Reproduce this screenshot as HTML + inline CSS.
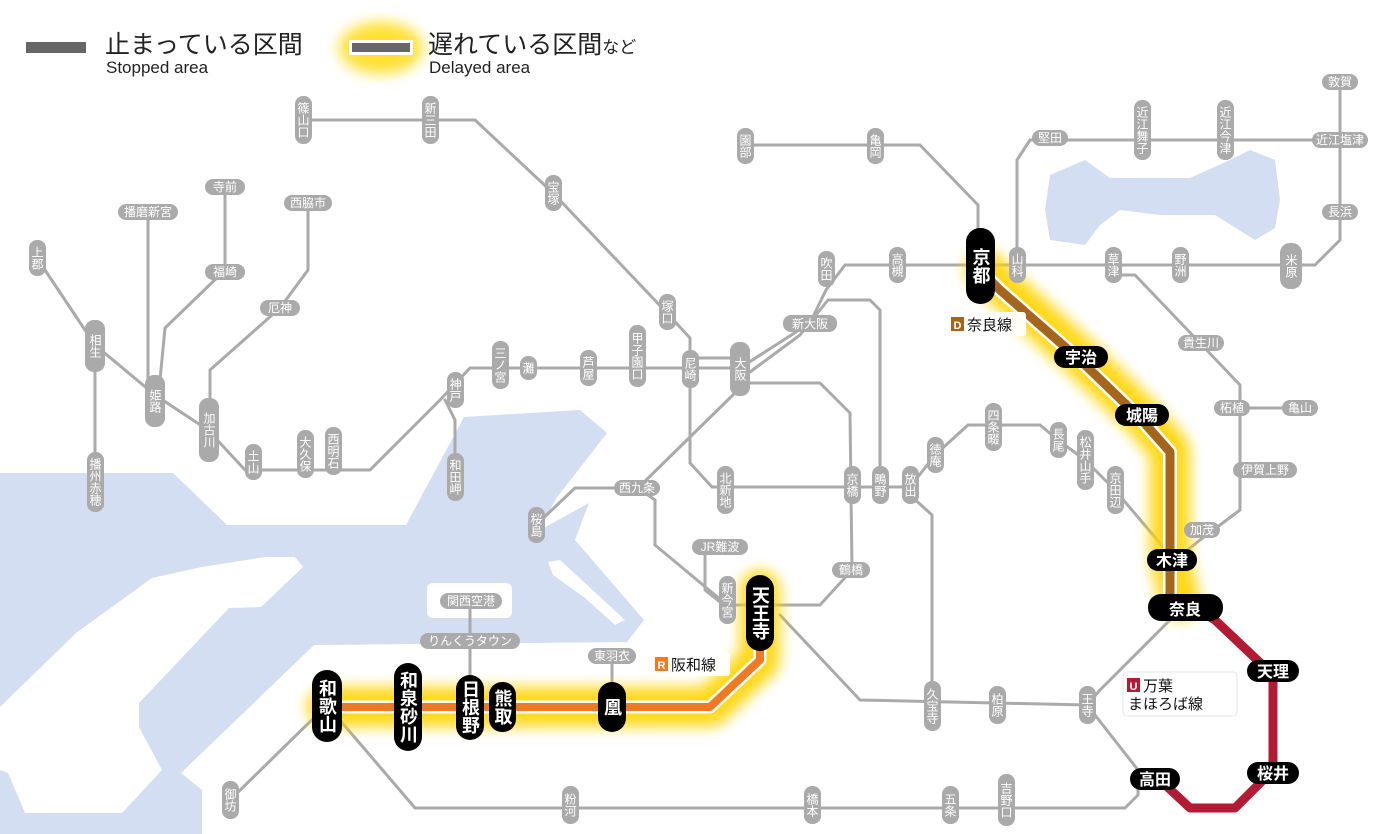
<!DOCTYPE html>
<html><head><meta charset="utf-8"><style>
html,body{margin:0;padding:0;background:#fff;}
svg{display:block;font-family:"Liberation Sans","Noto Sans CJK JP",sans-serif;}
.l{fill:none;stroke:#aaa;stroke-width:3;stroke-linejoin:round;stroke-linecap:round}
.p{fill:#aaa}
.t{fill:#fff;font-size:12px;text-anchor:middle}
.v{fill:#fff;font-size:12px;text-anchor:middle;writing-mode:vertical-rl;dominant-baseline:central}
.b{fill:#000}
.bt{fill:#fff;font-size:16px;text-anchor:middle;font-weight:bold}
.bv{fill:#fff;font-size:18px;text-anchor:middle;writing-mode:vertical-rl;dominant-baseline:central;font-weight:bold}
</style></head><body>
<svg width="1400" height="834" viewBox="0 0 1400 834" xmlns="http://www.w3.org/2000/svg">
<defs>
<filter id="g" x="-20%" y="-20%" width="140%" height="140%"><feGaussianBlur stdDeviation="7"/></filter>
</defs>
<!-- water -->
<path fill="#d3def2" d="M0,473 L173,473 L227,525 L406,525 L464,417 L580,410 L607,433 L555,500 L540,530 L589,503 L575,540 L644,620 L627,642 L314,645 L181,773 L202,790 L202,834 L0,834 Z"/>
<path fill="#fff" d="M265,557 L295,557 L303,567 L261,607 L229,608 L139,703 L139,727 L162,770 L122,813 L25,813 L8,773 L0,770 L0,707 L76,633 L152,578 L202,567 Z"/>
<rect x="427" y="583" width="85" height="35" rx="6" fill="#fff"/>
<path fill="#fff" d="M548,562 L560,560 L625,620 L615,625 L585,598 L553,575 Z"/>
<path fill="#d3def2" d="M1050,175 L1085,160 L1110,178 L1190,178 L1230,160 L1250,150 L1275,160 L1280,200 L1275,228 L1255,240 L1215,215 L1160,215 L1120,210 L1100,225 L1085,245 L1050,240 L1045,210 Z"/>
<!-- legend -->
<rect x="26" y="42" width="60" height="11" fill="#666"/>
<text x="105" y="53" font-size="25" fill="#222">止まっている区間</text>
<text x="106" y="73" font-size="17" fill="#222">Stopped area</text>
<ellipse cx="381" cy="48" rx="42" ry="26" fill="#ffd800" opacity=".8" filter="url(#g)"/>
<rect x="349" y="40" width="64" height="15" fill="#fff"/>
<rect x="352" y="43" width="58" height="9" fill="#666"/>
<text x="428" y="53" font-size="25" fill="#222">遅れている区間<tspan font-size="17">など</tspan></text>
<text x="429" y="73" font-size="17" fill="#222">Delayed area</text>
<!-- gray lines -->
<polyline class="l" points="303,120 475,120 553,193 667,313 690,338 690,463 712,487 910,487"/>
<polyline class="l" points="910,487 935,455 968,425 1040,425 1058,440 1085,460 1115,490 1170,555"/>
<polyline class="l" points="37,258 95,345 155,395 208,430 245,470 370,470 440,400 470,368 740,368"/>
<polyline class="l" points="690,358 740,358"/>
<polyline class="l" points="445,400 455,420 455,478"/>
<polyline class="l" points="95,345 95,482"/>
<polyline class="l" points="148,212 148,395"/>
<polyline class="l" points="225,187 225,270 165,328 160,380"/>
<polyline class="l" points="308,203 308,270 280,308 210,370 210,420"/>
<polyline class="l" points="740,368 810,323 826,290 845,265 1315,265 1340,240 1340,82"/>
<polyline class="l" points="750,372 800,335 828,300 870,300 880,310 880,487"/>
<polyline class="l" points="1340,140 1030,140 1017,160 1017,265"/>
<polyline class="l" points="745,145 920,145 978,205 978,240"/>
<polyline class="l" points="740,383 820,383 850,413 852,570 820,605 727,605 655,545 655,500 638,488 738,390"/>
<polyline class="l" points="638,488 575,488 536,525"/>
<polyline class="l" points="705,547 705,590 720,602"/>
<polyline class="l" points="612,656 612,705"/>
<polyline class="l" points="470,601 470,705"/>
<polyline class="l" points="327,705 230,800"/>
<polyline class="l" points="327,705 415,808 1125,808 1138,795 1138,770 1095,715"/>
<polyline class="l" points="780,615 860,700 1087,705 1100,690 1180,610"/>
<polyline class="l" points="910,495 932,515 932,705"/>
<polyline class="l" points="1113,275 1135,275 1200,343 1240,385 1240,510 1200,540 1175,560"/>
<polyline class="l" points="1240,408 1300,408"/>
<!-- delayed lines glow -->
<g filter="url(#g)" fill="none" stroke="#ffd400" stroke-linejoin="round" stroke-linecap="round" opacity=".9">
<polyline stroke-width="40" points="985,270 1000,285 1080,357 1140,415 1170,450 1170,560 1180,600"/>
<polyline stroke-width="40" points="327,707 710,707 760,660 760,590"/>
</g>
<g fill="none" stroke-linejoin="round">
<polyline stroke="#fff" stroke-width="14" points="985,275 1000,290 1080,360 1140,418 1170,452 1170,600"/>
<polyline stroke="#a4651d" stroke-width="9" points="985,275 1000,290 1080,360 1140,418 1170,452 1170,600"/>
<polyline stroke="#fff" stroke-width="13" points="327,707 710,707 760,660 760,600"/>
<polyline stroke="#f07a22" stroke-width="8" points="327,707 710,707 760,660 760,600"/>
<polyline stroke="#b31b34" stroke-width="9" points="1195,608 1215,620 1273,675 1273,770 1235,808 1190,808 1160,780"/>
</g>
<!-- horizontal gray stations -->
<g>
<rect class="p" x="118" y="204" width="60" height="16" rx="8"/><text class="t" x="148" y="216">播磨新宮</text>
<rect class="p" x="205" y="179" width="40" height="16" rx="8"/><text class="t" x="225" y="191">寺前</text>
<rect class="p" x="205" y="264" width="40" height="16" rx="8"/><text class="t" x="225" y="276">福崎</text>
<rect class="p" x="284" y="195" width="48" height="16" rx="8"/><text class="t" x="308" y="207">西脇市</text>
<rect class="p" x="260" y="300" width="40" height="16" rx="8"/><text class="t" x="280" y="312">厄神</text>
<rect class="p" x="783" y="315" width="54" height="17" rx="8"/><text class="t" x="810" y="328" font-size="13">新大阪</text>
<rect class="p" x="1032" y="130" width="36" height="16" rx="8"/><text class="t" x="1050" y="142">堅田</text>
<rect class="p" x="1312" y="132" width="56" height="16" rx="8"/><text class="t" x="1340" y="144">近江塩津</text>
<rect class="p" x="1322" y="74" width="36" height="16" rx="8"/><text class="t" x="1340" y="86">敦賀</text>
<rect class="p" x="1322" y="204" width="36" height="16" rx="8"/><text class="t" x="1340" y="216">長浜</text>
<rect class="p" x="1178" y="335" width="46" height="16" rx="8"/><text class="t" x="1201" y="347">貴生川</text>
<rect class="p" x="1214" y="400" width="36" height="16" rx="8"/><text class="t" x="1232" y="412">柘植</text>
<rect class="p" x="1282" y="400" width="36" height="16" rx="8"/><text class="t" x="1300" y="412">亀山</text>
<rect class="p" x="1233" y="462" width="64" height="16" rx="8"/><text class="t" x="1265" y="474">伊賀上野</text>
<rect class="p" x="1184" y="522" width="36" height="16" rx="8"/><text class="t" x="1202" y="534">加茂</text>
<rect class="p" x="614" y="480" width="46" height="16" rx="8"/><text class="t" x="637" y="492">西九条</text>
<rect class="p" x="692" y="539" width="56" height="16" rx="8"/><text class="t" x="720" y="551">JR難波</text>
<rect class="p" x="832" y="562" width="38" height="16" rx="8"/><text class="t" x="851" y="574">鶴橋</text>
<rect class="p" x="440" y="593" width="62" height="16" rx="8"/><text class="t" x="471" y="605">関西空港</text>
<rect class="p" x="420" y="633" width="100" height="16" rx="8"/><text class="t" x="470" y="645">りんくうタウン</text>
<rect class="p" x="588" y="648" width="48" height="16" rx="8"/><text class="t" x="612" y="660">東羽衣</text>
</g>
<!-- vertical gray stations -->
<g>
<rect class="p" x="295" y="96" width="17" height="48" rx="8"/><text class="v" x="303" y="120">篠山口</text>
<rect class="p" x="422" y="96" width="17" height="48" rx="8"/><text class="v" x="430" y="120">新三田</text>
<rect class="p" x="545" y="175" width="17" height="36" rx="8"/><text class="v" x="553" y="193">宝塚</text>
<rect class="p" x="659" y="294" width="17" height="36" rx="8"/><text class="v" x="667" y="312">塚口</text>
<rect class="p" x="737" y="128" width="17" height="36" rx="8"/><text class="v" x="745" y="146">園部</text>
<rect class="p" x="867" y="128" width="17" height="36" rx="8"/><text class="v" x="875" y="146">亀岡</text>
<rect class="p" x="818" y="251" width="17" height="36" rx="8"/><text class="v" x="826" y="269">吹田</text>
<rect class="p" x="889" y="247" width="17" height="36" rx="8"/><text class="v" x="897" y="265">高槻</text>
<rect class="p" x="1009" y="247" width="17" height="36" rx="8"/><text class="v" x="1017" y="265">山科</text>
<rect class="p" x="1105" y="247" width="17" height="36" rx="8"/><text class="v" x="1113" y="265">草津</text>
<rect class="p" x="1172" y="247" width="17" height="36" rx="8"/><text class="v" x="1180" y="265">野洲</text>
<rect class="p" x="1280" y="243" width="22" height="46" rx="10"/><text class="v" x="1291" y="266" font-size="16">米原</text>
<rect class="p" x="1134" y="100" width="17" height="60" rx="8"/><text class="v" x="1142" y="130">近江舞子</text>
<rect class="p" x="1217" y="100" width="17" height="60" rx="8"/><text class="v" x="1225" y="130">近江今津</text>
<rect class="p" x="29" y="240" width="17" height="36" rx="8"/><text class="v" x="37" y="258">上郡</text>
<rect class="p" x="85" y="320" width="20" height="52" rx="9"/><text class="v" x="95" y="346" font-size="15">相生</text>
<rect class="p" x="145" y="375" width="20" height="52" rx="9"/><text class="v" x="155" y="401" font-size="15">姫路</text>
<rect class="p" x="199" y="398" width="20" height="64" rx="9"/><text class="v" x="209" y="430" font-size="15">加古川</text>
<rect class="p" x="87" y="452" width="17" height="60" rx="8"/><text class="v" x="95" y="482">播州赤穂</text>
<rect class="p" x="245" y="444" width="17" height="36" rx="8"/><text class="v" x="253" y="462">土山</text>
<rect class="p" x="297" y="430" width="17" height="48" rx="8"/><text class="v" x="305" y="454">大久保</text>
<rect class="p" x="325" y="427" width="17" height="48" rx="8"/><text class="v" x="333" y="451">西明石</text>
<rect class="p" x="447" y="372" width="17" height="36" rx="8"/><text class="v" x="455" y="390">神戸</text>
<rect class="p" x="447" y="453" width="17" height="48" rx="8"/><text class="v" x="455" y="477">和田岬</text>
<rect class="p" x="492" y="341" width="17" height="48" rx="8"/><text class="v" x="500" y="365">三ノ宮</text>
<rect class="p" x="520" y="356" width="17" height="24" rx="8"/><text class="v" x="528" y="368">灘</text>
<rect class="p" x="580" y="350" width="17" height="36" rx="8"/><text class="v" x="588" y="368">芦屋</text>
<rect class="p" x="629" y="325" width="17" height="62" rx="8"/><text class="v" x="637" y="356">甲子園口</text>
<rect class="p" x="682" y="350" width="17" height="38" rx="8"/><text class="v" x="690" y="369">尼崎</text>
<rect class="p" x="730" y="342" width="20" height="54" rx="9"/><text class="v" x="740" y="369" font-size="16">大阪</text>
<rect class="p" x="717" y="466" width="17" height="48" rx="8"/><text class="v" x="725" y="490">北新地</text>
<rect class="p" x="844" y="466" width="17" height="38" rx="8"/><text class="v" x="852" y="485">京橋</text>
<rect class="p" x="872" y="466" width="17" height="38" rx="8"/><text class="v" x="880" y="485">鴫野</text>
<rect class="p" x="902" y="466" width="17" height="38" rx="8"/><text class="v" x="910" y="485">放出</text>
<rect class="p" x="927" y="437" width="17" height="36" rx="8"/><text class="v" x="935" y="455">徳庵</text>
<rect class="p" x="985" y="403" width="17" height="48" rx="8"/><text class="v" x="993" y="427">四条畷</text>
<rect class="p" x="1050" y="422" width="17" height="36" rx="8"/><text class="v" x="1058" y="440">長尾</text>
<rect class="p" x="1077" y="430" width="17" height="60" rx="8"/><text class="v" x="1085" y="460">松井山手</text>
<rect class="p" x="1107" y="466" width="17" height="48" rx="8"/><text class="v" x="1115" y="490">京田辺</text>
<rect class="p" x="528" y="507" width="17" height="36" rx="8"/><text class="v" x="536" y="525">桜島</text>
<rect class="p" x="719" y="576" width="17" height="48" rx="8"/><text class="v" x="727" y="600">新今宮</text>
<rect class="p" x="924" y="681" width="17" height="50" rx="8"/><text class="v" x="932" y="706">久宝寺</text>
<rect class="p" x="989" y="686" width="17" height="38" rx="8"/><text class="v" x="997" y="705">柏原</text>
<rect class="p" x="1079" y="686" width="17" height="38" rx="8"/><text class="v" x="1087" y="705">王寺</text>
<rect class="p" x="222" y="781" width="17" height="38" rx="8"/><text class="v" x="230" y="800">御坊</text>
<rect class="p" x="562" y="786" width="17" height="38" rx="8"/><text class="v" x="570" y="805">粉河</text>
<rect class="p" x="804" y="786" width="17" height="38" rx="8"/><text class="v" x="812" y="805">橋本</text>
<rect class="p" x="942" y="786" width="17" height="38" rx="8"/><text class="v" x="950" y="805">五条</text>
<rect class="p" x="998" y="774" width="17" height="52" rx="8"/><text class="v" x="1006" y="800">吉野口</text>
</g>
<!-- black stations -->
<g>
<rect class="b" x="966" y="228" width="29" height="76" rx="14"/><text class="bv" x="980.5" y="266" font-size="22">京都</text>
<rect class="b" x="1054" y="346" width="54" height="22" rx="11"/><text class="bt" x="1081" y="363">宇治</text>
<rect class="b" x="1115" y="404" width="54" height="22" rx="11"/><text class="bt" x="1142" y="421">城陽</text>
<rect class="b" x="1147" y="549" width="50" height="22" rx="11"/><text class="bt" x="1172" y="566">木津</text>
<rect class="b" x="1148" y="594" width="75" height="27" rx="13"/><text class="bt" x="1185" y="615" font-size="20">奈良</text>
<rect class="b" x="1247" y="660" width="52" height="22" rx="11"/><text class="bt" x="1273" y="677">天理</text>
<rect class="b" x="1247" y="762" width="52" height="22" rx="11"/><text class="bt" x="1273" y="779">桜井</text>
<rect class="b" x="1130" y="768" width="50" height="22" rx="11"/><text class="bt" x="1155" y="785">高田</text>
<rect class="b" x="746" y="575" width="28" height="76" rx="14"/><text class="bv" x="760" y="613" font-size="20">天王寺</text>
<rect class="b" x="598" y="682" width="28" height="50" rx="14"/><text class="bv" x="612" y="707">凰</text>
<rect class="b" x="489" y="682" width="27" height="50" rx="13"/><text class="bv" x="502.5" y="707">熊取</text>
<rect class="b" x="456" y="675" width="28" height="65" rx="14"/><text class="bv" x="470" y="707">日根野</text>
<rect class="b" x="394" y="663" width="28" height="88" rx="14"/><text class="bv" x="408" y="707">和泉砂川</text>
<rect class="b" x="312" y="670" width="30" height="72" rx="15"/><text class="bv" x="327" y="706" font-size="20">和歌山</text>
</g>
<!-- line labels -->
<rect x="946" y="312" width="80" height="24" rx="3" fill="#fff" opacity=".95"/>
<rect x="951" y="317" width="13" height="14" fill="#a4651d"/><text x="957.5" y="329" font-size="11" font-weight="bold" fill="#fff" text-anchor="middle">D</text>
<text x="967" y="330" font-size="15" fill="#111">奈良線</text>
<rect x="650" y="652" width="80" height="24" rx="3" fill="#fff" opacity=".95"/>
<rect x="655" y="657" width="13" height="14" fill="#f07a22"/><text x="661.5" y="669" font-size="11" font-weight="bold" fill="#fff" text-anchor="middle">R</text>
<text x="671" y="670" font-size="15" fill="#111">阪和線</text>
<rect x="1123" y="672" width="114" height="44" rx="4" fill="#fff" stroke="#e6e6e6"/>
<rect x="1127" y="678" width="13" height="14" fill="#b31b34"/><text x="1133.5" y="690" font-size="11" font-weight="bold" fill="#fff" text-anchor="middle">U</text>
<text x="1143" y="691" font-size="15" fill="#111">万葉</text>
<text x="1128" y="709" font-size="15" fill="#111">まほろば線</text>
</svg>
</body></html>
